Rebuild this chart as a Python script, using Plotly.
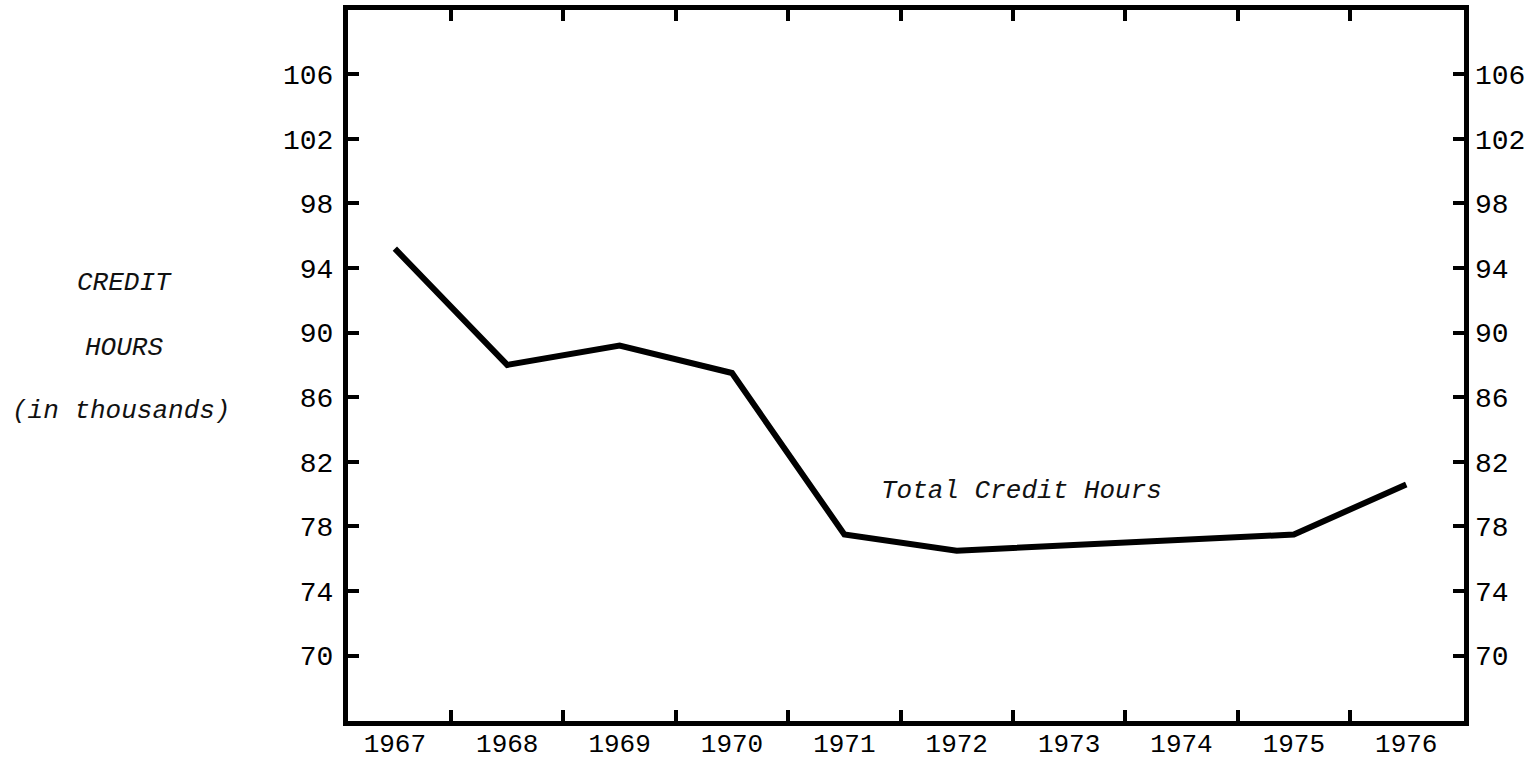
import plotly.graph_objects as go

# Total credit hours by year (thousands)
years = [1967, 1968, 1969, 1970, 1971, 1972, 1975, 1976]
credit_hours = [95.2, 88.0, 89.2, 87.5, 77.5, 76.5, 77.5, 80.6]

year_labels = [1967, 1968, 1969, 1970, 1971, 1972, 1973, 1974, 1975, 1976]
year_ticks = [1967.5, 1968.5, 1969.5, 1970.5, 1971.5, 1972.5, 1973.5, 1974.5, 1975.5]
y_ticks = [70, 74, 78, 82, 86, 90, 94, 98, 102, 106]

x_range = [1966.583, 1976.514]
y_range = [65.95, 109.98]

W, H = 1532, 759
ML, MR, MT, MB = 348, 68, 10, 38

tick_font = dict(family="Liberation Mono", size=28, color="black")
year_font = dict(family="Liberation Mono", size=26, color="black")
text_font = dict(family="Liberation Mono", size=26, color="#111111")

fig = go.Figure()
fig.add_trace(go.Scatter(
    x=years, y=credit_hours, mode="lines",
    line=dict(color="black", width=6),
    showlegend=False, hoverinfo="skip",
))

fig.update_layout(
    width=W, height=H,
    margin=dict(l=ML, r=MR, t=MT, b=MB, autoexpand=False),
    paper_bgcolor="white", plot_bgcolor="white",
    xaxis=dict(
        range=x_range, tickvals=year_ticks, showticklabels=False,
        ticks="inside", ticklen=11, tickwidth=4, tickcolor="black",
        showline=True, linewidth=5, linecolor="black", mirror="ticks",
        showgrid=False, zeroline=False, automargin=False,
    ),
    xaxis2=dict(
        overlaying="x", side="bottom", range=x_range,
        tickvals=year_labels, ticktext=[str(v) for v in year_labels],
        ticks="", showline=False, showgrid=False, zeroline=False,
        tickfont=year_font, ticklabelstandoff=4, automargin=False,
    ),
    yaxis=dict(
        range=y_range, tickvals=y_ticks,
        ticks="inside", ticklen=11, tickwidth=4, tickcolor="black",
        showline=True, linewidth=5, linecolor="black", mirror="ticks",
        showgrid=False, zeroline=False, tickfont=tick_font,
        ticklabelstandoff=4, automargin=False,
    ),
    yaxis2=dict(
        overlaying="y", side="right", range=y_range, tickvals=y_ticks,
        ticks="", showline=False, showgrid=False, zeroline=False,
        tickfont=tick_font, ticklabelstandoff=10, automargin=False,
    ),
)

# invisible trace to activate the secondary axes
fig.add_trace(go.Scatter(
    x=[years[0]], y=[credit_hours[0]], xaxis="x2", yaxis="y2",
    mode="markers", marker=dict(opacity=0), showlegend=False, hoverinfo="skip",
))

fig.add_annotation(
    x=1972.58, y=80.2, xref="x", yref="y", text="<i>Total Credit Hours</i>",
    showarrow=False, font=text_font, xanchor="center", yanchor="middle",
)


def px_to_paper(px, py):
    return (px - ML) / (W - ML - MR), (H - py - MB) / (H - MT - MB)


for label, xpix, ypix in [("CREDIT", 124, 283), ("HOURS", 124, 348),
                          ("(in thousands)", 121, 411)]:
    px, py = px_to_paper(xpix, ypix)
    fig.add_annotation(
        x=px, y=py, xref="paper", yref="paper",
        text=f"<i>{label}</i>", showarrow=False, font=text_font,
        xanchor="center", yanchor="middle",
    )

fig.write_html("out.html")
